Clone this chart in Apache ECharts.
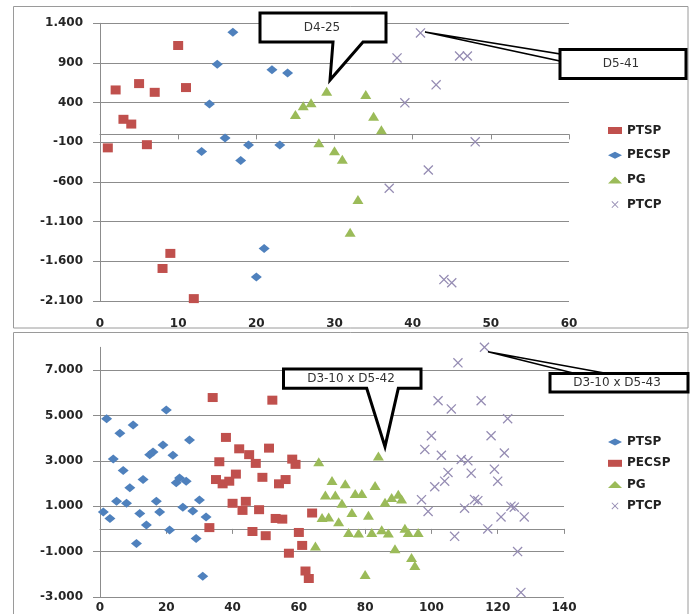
<!DOCTYPE html>
<html><head><meta charset="utf-8">
<script src="https://cdn.jsdelivr.net/npm/echarts@6/dist/echarts.min.js"></script>
<style>
html,body{margin:0;padding:0;background:#fff;width:690px;height:614px;overflow:hidden}
#top{position:absolute;left:0;top:0;width:690px;height:330px}
#bot{position:absolute;left:0;top:330px;width:690px;height:284px}
</style>
</head><body><div id="top"></div><div id="bot"></div>
<script>
// ---------- DATA ----------
const seriesNames = ['PTSP', 'PECSP', 'PG', 'PTCP'];

// top chart
const topXTicks = [0, 10, 20, 30, 40, 50, 60];
const topYTicks = [-2100, -1600, -1100, -600, -100, 400, 900, 1400];
const topPTSP_x = [1,2,3,4,5,6,7,8,9,10,11,12];
const topPTSP_y = [-170,560,190,130,640,-130,530,-1690,-1500,1120,590,-2070];
const topPECSP_x = [13,14,15,16,17,18,19,20,21,22,23,24];
const topPECSP_y = [-215,383,883,-46,1286,-328,-134,-1797,-1438,814,-134,774];
const topPG_x = [25,26,27,28,29,30,31,32,33,34,35,36];
const topPG_y = [250,360,400,-105,545,-205,-315,-1233,-821,504,229,59];
const topPTCP_x = [37,38,39,41,42,43,44,45,46,47,48];
const topPTCP_y = [-679,964,398,1279,-449,625,-1830,-1870,988,988,-94];

// bottom chart
const botXTicks = [0, 20, 40, 60, 80, 100, 120, 140];
const botYTicks = [-3000, -1000, 1000, 3000, 5000, 7000];
const botYMax = 8000;
const botPTSP_x = [1,2,3,4,5,6,7,8,9,10,11,12,13,14,15,16,17,18,19,20,21,22,23,24,25,26,27,28,29,30,31,32];
const botPTSP_y = [743,4857,460,3074,1214,4214,2572,1128,1814,4574,-642,674,2174,172,3271,3387,1214,743,3700,5243,-43,3245,2028,2243,957,2101,3914,785,-428,1272,-2086,528];
const botPECSP_x = [33,34,35,36,37,38,39,40,41,42,43,44,45,46,47,48,49,50,51,52,53,54,55,56,57,58,59,60,61,62,63,64];
const botPECSP_y = [57,5787,2174,2958,1986,4030,2101,1128,2414,3528,815,1214,3271,-115,2886,846,2272,-299,3558,5671,460,1986,430,2174,-1071,3074,2843,-157,-728,-1855,-2185,700];
const botPG_x = [65,66,67,68,69,70,71,72,73,74,75,76,77,78,79,80,81,82,83,84,85,86,87,88,89,90,91,92,93,94,95,96];
const botPG_y = [-757,2958,502,1488,528,2131,1488,314,1128,1986,-157,717,1557,-184,1557,-2014,601,-157,1917,3215,-42,1172,-184,1385,-869,1531,1317,31,-157,-1255,-1615,-157];
const botPTCP_x = [97,98,99,100,101,102,103,104,105,106,107,108,109,110,111,112,113,114,115,116,117,118,119,120,121,122,123,124,125,126,127,128];
const botPTCP_y = [1287,3503,772,4103,1857,5646,3245,2101,2487,5286,-329,7317,3057,914,3000,2457,1300,1244,5646,8003,0,4103,2629,2101,528,3344,4857,1000,957,-998,-2798,528];

// ---------- STYLE ----------
const COLORS = {red:'#C0504D', blue:'#4F81BD', green:'#9BBB59', x:'#958cb3'};
const XPATH = 'path://M0,0.9L0.9,0L10,9.1L9.1,10ZM9.1,0L10,0.9L0.9,10L0,9.1Z';
const FONT = 'DejaVu Sans';
const GRID_COLOR = '#8c8c8c';
const LABEL_COLOR = '#262626';

function fmt(v){
  const r = Math.round(v);
  const s = r < 0 ? '-' : '';
  return s + String(Math.abs(r)).replace(/\B(?=(\d{3})+(?!\d))/g, '.');
}
function zip(xs, ys){ return xs.map((x,i)=>[x, ys[i]]); }

function scatter(name, data, symbol, size, color){
  return {
    name, type:'scatter', data, symbol, symbolSize:size,
    xAxisIndex:0, yAxisIndex:1,
    itemStyle:{color, opacity:1},
    emphasis:{disabled:true}, animation:false, z:3
  };
}

function buildOption(cfg){
  const yMin = cfg.yTicks[0];
  const step = cfg.yTicks[1]-cfg.yTicks[0];
  const yMax = cfg.yMax;
  const span = yMax - yMin;
  return {
    animation:false,
    grid:{left:100, top:cfg.gridTop, width:cfg.gridWidth, height:cfg.gridHeight, containLabel:false},
    xAxis:[{
      type:'value', min:cfg.xTicks[0], max:cfg.xTicks[cfg.xTicks.length-1],
      interval:cfg.xTicks[1]-cfg.xTicks[0],
      axisLine:{show:true, onZero:true, onZeroAxisIndex:1, lineStyle:{color:GRID_COLOR, width:1}},
      axisTick:{show:true, length:5, inside:false, lineStyle:{color:GRID_COLOR}},
      splitLine:{show:false},
      axisLabel:{margin:cfg.xLabelMargin, fontFamily:FONT, fontSize:12, fontWeight:'bold', color:LABEL_COLOR}
    }],
    yAxis:[{
      // label/grid axis, offset so ticks start at the first tick value
      type:'value', min:0, max:span, interval:step,
      axisLine:{show:true, lineStyle:{color:GRID_COLOR, width:1}},
      axisTick:{show:true, length:7, lineStyle:{color:GRID_COLOR}},
      splitLine:{show:true, showMaxLine:cfg.showMax, lineStyle:{color:GRID_COLOR, width:1}},
      axisLabel:{showMaxLabel:cfg.showMax, margin:17, fontFamily:FONT, fontSize:12, fontWeight:'bold', color:LABEL_COLOR,
        formatter:(v)=>fmt(v + yMin)}
    },{
      type:'value', min:yMin, max:yMax, show:false
    }],
    legend:{
      orient:'vertical', left:603, top:cfg.legendTop, itemWidth:14, itemHeight:7, itemGap:cfg.legendGap,
      textStyle:{fontFamily:FONT, fontSize:12, fontWeight:'bold', color:'#222'},
      selectedMode:false,
      data:cfg.legendData
    },
    series:cfg.series,
    graphic:cfg.graphic
  };
}

function txt(x, y, text){
  return {type:'text', x, y, z:101, silent:true,
    style:{text, fontFamily:FONT, fontSize:12, fill:'#333', align:'center', verticalAlign:'middle',
      textAlign:'center', textVerticalAlign:'middle'}};
}

// ---------- TOP ----------
const topChart = echarts.init(document.getElementById('top'), null, {renderer:'canvas'});
topChart.setOption(buildOption({
  xTicks:topXTicks, yTicks:topYTicks, yMax:topYTicks[topYTicks.length-1], showMax:true,
  gridTop:23.3, gridWidth:469, gridHeight:289, xLabelMargin:17,
  legendTop:119.5, legendGap:12.7,
  legendData:[{name:'PTSP',icon:'rect'},{name:'PECSP',icon:'diamond'},{name:'PG',icon:'triangle'},{name:'PTCP',icon:XPATH}],
  series:[
    scatter('PTSP', zip(topPTSP_x, topPTSP_y), 'rect', [10,9], COLORS.red),
    scatter('PECSP', zip(topPECSP_x, topPECSP_y), 'diamond', [11,9], COLORS.blue),
    scatter('PG', zip(topPG_x, topPG_y), 'triangle', [11,9], COLORS.green),
    scatter('PTCP', zip(topPTCP_x, topPTCP_y), XPATH, 10, COLORS.x)
  ],
  graphic:[
    {type:'rect', silent:true, z:-10, shape:{x:13.5, y:6.5, width:674.5, height:321.5}, style:{fill:'none', stroke:'#9a9a9a', lineWidth:1}},
    {type:'polygon', silent:true, z:100, shape:{points:[[260,13],[386,13],[386,42],[363,42],[330,80],[333,42],[260,42]]},
      style:{fill:'#fff', stroke:'#000', lineWidth:3, lineJoin:'miter'}},
    txt(322, 27.5, 'D4-25'),
    {type:'polygon', silent:true, z:100, shape:{points:[[425,32],[560,54],[560,61]]},
      style:{fill:'#fff', stroke:'#000', lineWidth:1.5}},
    {type:'rect', silent:true, z:100, shape:{x:560, y:49.5, width:126, height:29},
      style:{fill:'#fff', stroke:'#000', lineWidth:3}},
    txt(621, 64, 'D5-41')
  ]
}));

// ---------- BOTTOM ----------
const botChart = echarts.init(document.getElementById('bot'), null, {renderer:'canvas'});
botChart.setOption(buildOption({
  xTicks:botXTicks, yTicks:botYTicks, yMax:botYMax, showMax:false,
  gridTop:17.3, gridWidth:464, gridHeight:256, xLabelMargin:5,
  legendTop:101, legendGap:9.3,
  legendData:[{name:'PTSP',icon:'diamond'},{name:'PECSP',icon:'rect'},{name:'PG',icon:'triangle'},{name:'PTCP',icon:XPATH}],
  series:[
    scatter('PTSP', zip(botPTSP_x, botPTSP_y), 'diamond', [11,9], COLORS.blue),
    scatter('PECSP', zip(botPECSP_x, botPECSP_y), 'rect', [10,9], COLORS.red),
    scatter('PG', zip(botPG_x, botPG_y), 'triangle', [11,9], COLORS.green),
    scatter('PTCP', zip(botPTCP_x, botPTCP_y), XPATH, 10, COLORS.x)
  ],
  graphic:[
    {type:'rect', silent:true, z:-10, shape:{x:13.5, y:2.5, width:674.5, height:300}, style:{fill:'none', stroke:'#9a9a9a', lineWidth:1}},
    {type:'polygon', silent:true, z:100, shape:{points:[[283.5,39],[421,39],[421,58.3],[398.3,58.3],[385,116.7],[366.7,58.3],[283.5,58.3]]},
      style:{fill:'#fff', stroke:'#000', lineWidth:3, lineJoin:'miter'}},
    txt(351, 49, 'D3-10 x D5-42'),
    {type:'polygon', silent:true, z:100, shape:{points:[[488,21.7],[575,43.5],[607,43.5]]},
      style:{fill:'#fff', stroke:'#000', lineWidth:1.5}},
    {type:'rect', silent:true, z:100, shape:{x:550, y:43.5, width:138, height:18.5},
      style:{fill:'#fff', stroke:'#000', lineWidth:3}},
    txt(617, 53, 'D3-10 x D5-43')
  ]
}));
</script>
</body></html>
